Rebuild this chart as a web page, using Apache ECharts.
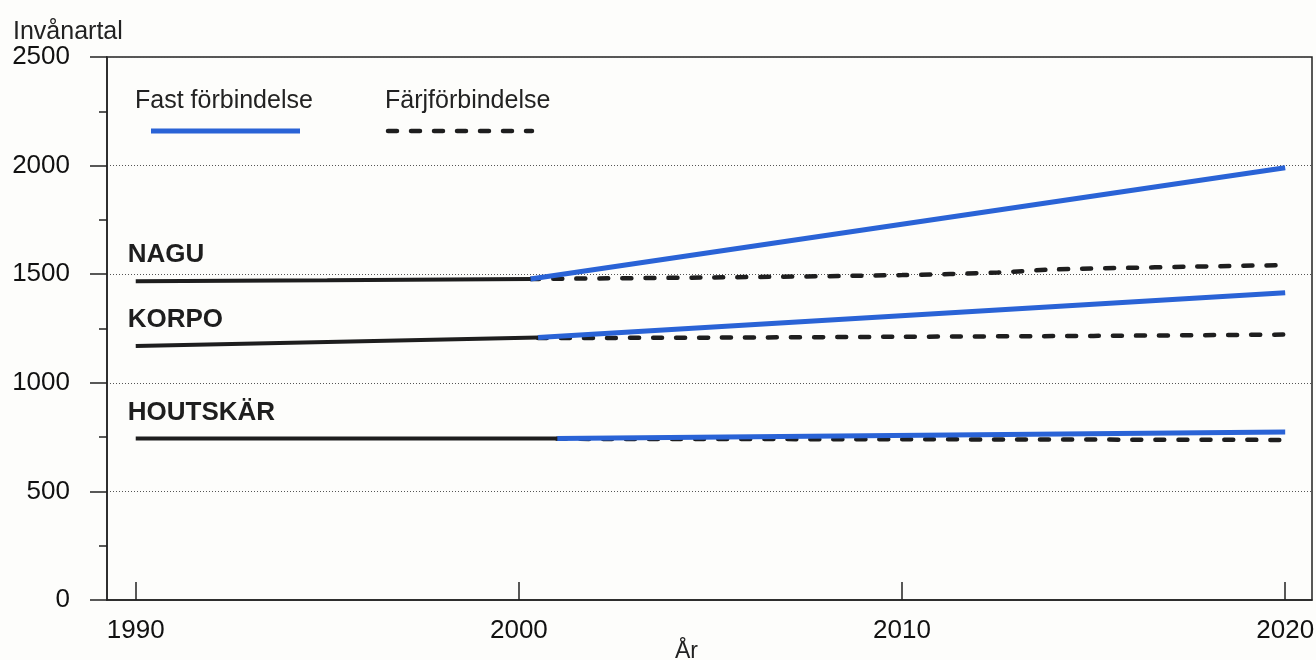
<!DOCTYPE html>
<html><head><meta charset="utf-8">
<script src="https://cdn.jsdelivr.net/npm/echarts@6/dist/echarts.min.js"></script>
<style>html,body{margin:0;padding:0;background:#fdfdfb}#c{width:1316px;height:660px}</style>
</head><body><div id="c"></div><script>
// ---- data ----
const xTicks = [1990, 2000, 2010, 2020];
const yTicks = [0, 500, 1000, 1500, 2000, 2500];
const names = ['NAGU', 'KORPO', 'HOUTSKÄR'];
const legendNames = ['Fast förbindelse', 'Färjförbindelse'];

const naguHistYears = [1990, 1995, 2000.3];
const naguHistVals = [1468, 1472, 1478];
const naguFastYears = [2000.3, 2020];
const naguFastVals = [1478, 1990];
const naguFerryYears = [2000.3, 2005, 2010, 2012.5, 2014, 2020];
const naguFerryVals = [1478, 1485, 1496, 1508, 1522, 1542];

const korpoHistYears = [1990, 1995, 2000.5];
const korpoHistVals = [1169, 1188, 1209];
const korpoFastYears = [2000.5, 2020];
const korpoFastVals = [1209, 1415];
const korpoFerryYears = [2000.5, 2005, 2010, 2015, 2020];
const korpoFerryVals = [1206, 1208, 1212, 1216, 1222];

const houtHistYears = [1990, 2001];
const houtHistVals = [744, 744];
const houtFastYears = [2001, 2020];
const houtFastVals = [744, 773];
const houtFerryYears = [2001, 2010, 2020];
const houtFerryVals = [742, 740, 737];

// ---- styles ----
const BLUE = '#2a63d6', BLACK = '#1e1e1e';
const FONT = 'Liberation Sans, Arial, sans-serif';
const DASH = [9, 14];

function pairs(xs, ys) { return xs.map((x, i) => [x, ys[i]]); }

function histSeries(name, xs, ys) {
  const d = pairs(xs, ys).map((p, i) => i === 0 ? {
    value: p,
    label: { show: true, formatter: name, position: [-8, -39], align: 'left', verticalAlign: 'top',
      fontFamily: FONT, fontWeight: 'bold', fontSize: 26, color: BLACK }
  } : { value: p });
  return { type: 'line', name: name, data: d, symbol: 'circle', symbolSize: 0.01, showSymbol: true,
    itemStyle: { color: BLACK }, lineStyle: { color: BLACK, width: 4 }, z: 4, silent: true, animation: false };
}
function fastSeries(xs, ys) {
  return { type: 'line', data: pairs(xs, ys), symbol: 'none', lineStyle: { color: BLUE, width: 5 }, z: 3, animation: false };
}
function ferrySeries(xs, ys) {
  return { type: 'line', data: pairs(xs, ys), symbol: 'none', smooth: 0.3,
    lineStyle: { color: BLACK, width: 4.5, type: DASH, cap: 'round' }, z: 2, animation: false };
}

const chart = echarts.init(document.getElementById('c'));
chart.setOption({
  backgroundColor: '#fdfdfb',
  title: { text: 'Invånartal', left: 8, top: 15,
    textStyle: { fontFamily: FONT, fontWeight: 'normal', fontSize: 25, color: '#222' } },
  grid: { left: 107, right: 4, top: 57, bottom: 60, show: true, borderColor: '#222', borderWidth: 1.5,
    outerBoundsMode: 'none', containLabel: false },
  xAxis: {
    type: 'value', min: 1989.25, max: 2020.7,
    name: 'År', nameLocation: 'middle', nameGap: 40, nameMoveOverlap: false,
    nameTextStyle: { fontFamily: FONT, fontSize: 23, color: '#222', padding: [0, 46, 0, 0] },
    axisLine: { show: true, lineStyle: { color: '#222', width: 1.5 } },
    axisTick: { show: true, inside: true, length: 18, customValues: xTicks, lineStyle: { color: '#222', width: 1.5 } },
    axisLabel: { customValues: xTicks, margin: 18, fontFamily: FONT, fontSize: 26, color: '#111',
      formatter: v => String(Math.round(v)) },
    splitLine: { show: false }
  },
  yAxis: {
    type: 'value', min: yTicks[0], max: yTicks[yTicks.length - 1], interval: 500,
    axisLine: { show: true, lineStyle: { color: '#222', width: 1.5 } },
    axisTick: { show: true, inside: false, length: 17, lineStyle: { color: '#222', width: 1.5 } },
    minorTick: { show: true, splitNumber: 2, length: 8, lineStyle: { color: '#222', width: 1.5 } },
    axisLabel: { margin: 37, fontFamily: FONT, fontSize: 26, color: '#111',
      formatter: v => String(Math.round(v)) },
    splitLine: { show: true, lineStyle: { color: '#555', width: 1, type: [1, 2] } }
  },
  graphic: [
    { type: 'text', left: 135, top: 89, style: { text: legendNames[0], font: '25px ' + FONT, fill: '#222' } },
    { type: 'line', shape: { x1: 151, y1: 131, x2: 300, y2: 131 }, style: { stroke: BLUE, lineWidth: 5 } },
    { type: 'text', left: 385, top: 89, style: { text: legendNames[1], font: '25px ' + FONT, fill: '#222' } },
    { type: 'line', shape: { x1: 388, y1: 131, x2: 532, y2: 131 }, style: { stroke: BLACK, lineWidth: 4.5, lineDash: DASH, lineCap: 'round' } }
  ],
  series: [
    ferrySeries(naguFerryYears, naguFerryVals),
    ferrySeries(korpoFerryYears, korpoFerryVals),
    ferrySeries(houtFerryYears, houtFerryVals),
    fastSeries(naguFastYears, naguFastVals),
    fastSeries(korpoFastYears, korpoFastVals),
    fastSeries(houtFastYears, houtFastVals),
    histSeries(names[0], naguHistYears, naguHistVals),
    histSeries(names[1], korpoHistYears, korpoHistVals),
    histSeries(names[2], houtHistYears, houtHistVals)
  ]
});
</script></body></html>
